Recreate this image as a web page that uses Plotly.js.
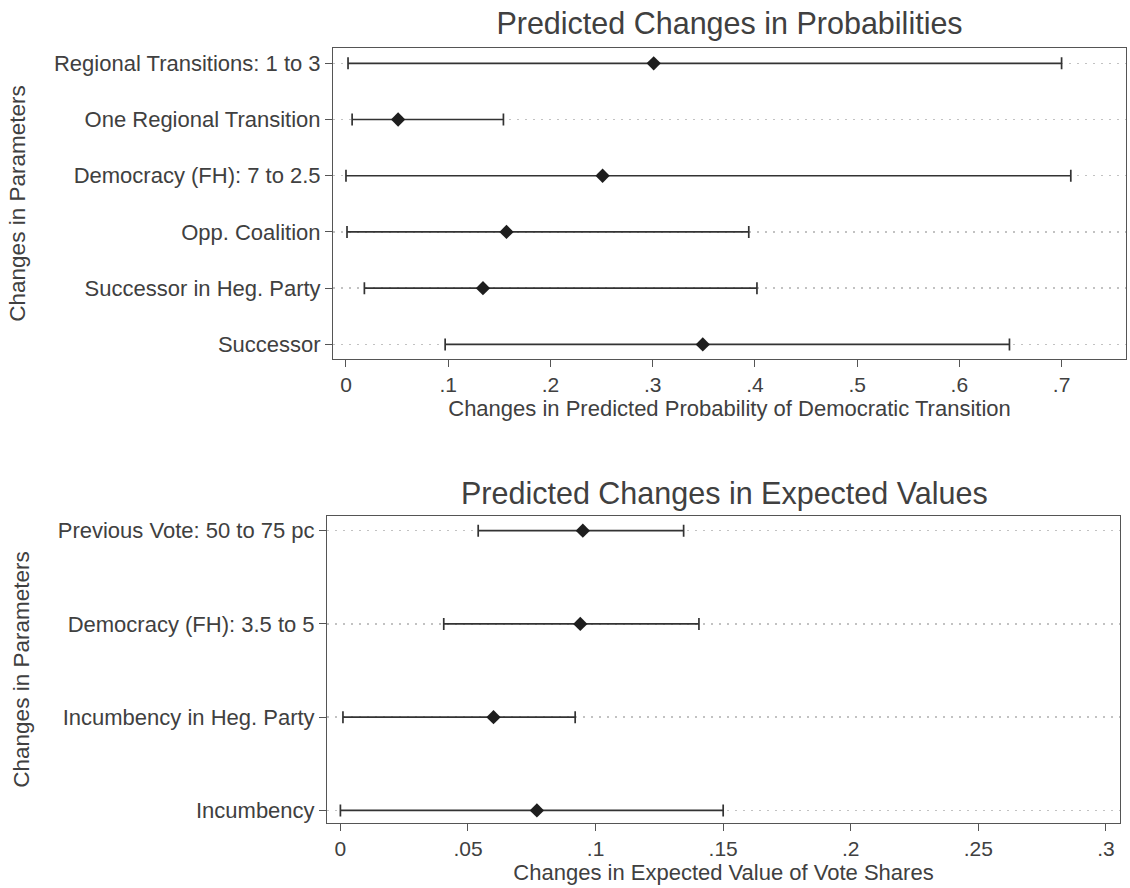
<!DOCTYPE html>
<html>
<head>
<meta charset="utf-8">
<script src="https://cdn.plot.ly/plotly-3.0.1.min.js"></script>
<style>html,body{margin:0;padding:0;background:#fff;}#chart{width:1130px;height:888px;}</style>
</head>
<body>
<div id="chart"></div>
<script>
// ---- Top panel: predicted changes in probabilities ----
var probParams = ["Successor", "Successor in Heg. Party", "Opp. Coalition",
                  "Democracy (FH): 7 to 2.5", "One Regional Transition", "Regional Transitions: 1 to 3"];
var probPoint = [0.349, 0.134, 0.157, 0.251, 0.051, 0.301];
var probLower = [0.097, 0.018, 0.001, 0.000, 0.006, 0.002];
var probUpper = [0.649, 0.402, 0.394, 0.709, 0.154, 0.700];
var probTickVals = [0, 0.1, 0.2, 0.3, 0.4, 0.5, 0.6, 0.7];
var probTickText = ["0", ".1", ".2", ".3", ".4", ".5", ".6", ".7"];

// ---- Bottom panel: predicted changes in expected values ----
var evParams = ["Incumbency", "Incumbency in Heg. Party", "Democracy (FH): 3.5 to 5", "Previous Vote: 50 to 75 pc"];
var evPoint = [0.077, 0.060, 0.094, 0.095];
var evLower = [0.000, 0.001, 0.0405, 0.054];
var evUpper = [0.150, 0.092, 0.1405, 0.1345];
var evTickVals = [0, 0.05, 0.1, 0.15, 0.2, 0.25, 0.3];
var evTickText = ["0", ".05", ".1", ".15", ".2", ".25", ".3"];

var textColor = "#404040";
var lineColor = "#555555";
var fontFam = "Liberation Sans, Arial, sans-serif";

function errs(point, lo, hi) {
  return {
    plus: point.map(function (p, i) { return hi[i] - p; }),
    minus: point.map(function (p, i) { return p - lo[i]; })
  };
}
var e1 = errs(probPoint, probLower, probUpper);
var e2 = errs(evPoint, evLower, evUpper);

var markerStyle = { symbol: "diamond", size: 11, color: "#1e1e1e" };

var traces = [
  {
    type: "scatter", mode: "markers", x: probPoint, y: probParams,
    xaxis: "x", yaxis: "y", marker: markerStyle, showlegend: false,
    error_x: { type: "data", symmetric: false, array: e1.plus, arrayminus: e1.minus,
               color: "#333333", thickness: 1.7, width: 6 }
  },
  {
    type: "scatter", mode: "markers", x: evPoint, y: evParams,
    xaxis: "x2", yaxis: "y2", marker: markerStyle, showlegend: false,
    error_x: { type: "data", symmetric: false, array: e2.plus, arrayminus: e2.minus,
               color: "#333333", thickness: 1.7, width: 6 }
  }
];

var axisCommon = {
  showline: true, mirror: true, linecolor: lineColor, linewidth: 1,
  ticks: "outside", ticklen: 7, tickcolor: lineColor, tickwidth: 1,
  zeroline: false, tickfont: { family: fontFam, size: 21, color: textColor }
};

function merge(a, b) { var o = {}; for (var k in a) o[k] = a[k]; for (var k2 in b) o[k2] = b[k2]; return o; }

var gridStyle = { showgrid: true, gridcolor: "#c2c2c2", griddash: "1.5px,6.5px", gridwidth: 1.5 };

var layout = {
  width: 1130, height: 888,
  margin: { l: 0, r: 0, t: 0, b: 0 },
  paper_bgcolor: "#ffffff", plot_bgcolor: "#ffffff",
  font: { family: fontFam, color: textColor },
  title: {
    text: "Predicted Changes in Probabilities",
    x: 729.5 / 1130, xanchor: "center", y: 1 - 23 / 888, yanchor: "middle",
    font: { family: fontFam, size: 30.5, color: textColor }
  },
  xaxis: merge(axisCommon, {
    domain: [333 / 1130, 1126 / 1130], anchor: "y",
    range: [-0.0127, 0.763], tickvals: probTickVals, ticktext: probTickText, showgrid: false,
    title: { text: "Changes in Predicted Probability of Democratic Transition",
             font: { family: fontFam, size: 22, color: textColor }, standoff: 2 }
  }),
  yaxis: merge(merge(axisCommon, gridStyle), {
    domain: [1 - 359 / 888, 1 - 48 / 888], anchor: "x",
    type: "category", categoryorder: "array", categoryarray: probParams,
    range: [-0.26, 5.272],
    tickfont: { family: fontFam, size: 22, color: textColor },
    title: { text: "Changes in Parameters", font: { family: fontFam, size: 22.5, color: textColor }, standoff: 22 }
  }),
  xaxis2: merge(axisCommon, {
    domain: [327 / 1130, 1120 / 1130], anchor: "y2",
    range: [-0.00525, 0.3055], tickvals: evTickVals, ticktext: evTickText, showgrid: false,
    title: { text: "Changes in Expected Value of Vote Shares",
             font: { family: fontFam, size: 22, color: textColor }, standoff: 2 }
  }),
  yaxis2: merge(merge(axisCommon, gridStyle), {
    domain: [1 - 823 / 888, 1 - 516 / 888], anchor: "x2",
    type: "category", categoryorder: "array", categoryarray: evParams,
    range: [-0.135, 3.157],
    tickfont: { family: fontFam, size: 22, color: textColor },
    title: { text: "Changes in Parameters", font: { family: fontFam, size: 22.5, color: textColor }, standoff: 21 }
  }),
  annotations: [
    {
      text: "Predicted Changes in Expected Values", xref: "paper", yref: "paper",
      x: 724 / 1130, y: 1 - 493 / 888, xanchor: "center", yanchor: "middle", showarrow: false,
      font: { family: fontFam, size: 30.5, color: textColor }
    }
  ]
};

Plotly.newPlot("chart", traces, layout, { displayModeBar: false, staticPlot: true });
</script>
</body>
</html>
